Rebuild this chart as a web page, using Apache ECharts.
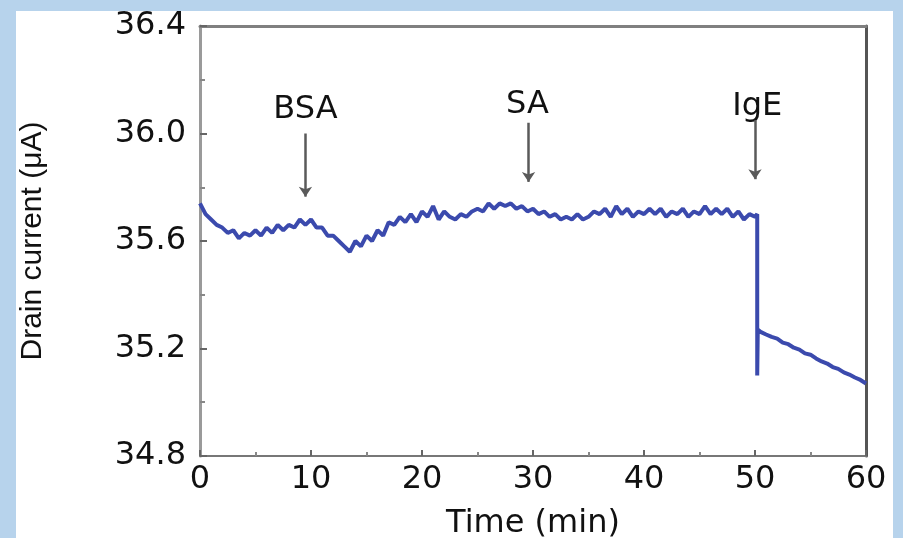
<!DOCTYPE html>
<html>
<head>
<meta charset="utf-8">
<script src="https://cdn.jsdelivr.net/npm/echarts@6/dist/echarts.min.js"></script>
<style>
  html, body { margin: 0; padding: 0; width: 903px; height: 538px; background: #b7d3ec; overflow: hidden; }
  #chart { position: absolute; left: 16px; top: 11px; width: 877px; height: 527px; background: #ffffff; }
</style>
</head>
<body>
<div id="chart"></div>
<script>
// ---- data ----
const timeMin = [
  0,0.5,1,1.5,2,2.5,3,3.5,4,4.5,5,5.5,6,6.5,7,7.5,8,8.5,9,9.5,
  10,10.5,11,11.5,12,12.5,13,13.5,14,14.5,15,15.5,16,16.5,17,17.5,18,18.5,19,19.5,
  20,20.5,21,21.5,22,22.5,23,23.5,24,24.5,25,25.5,26,26.5,27,27.5,28,28.5,29,29.5,
  30,30.5,31,31.5,32,32.5,33,33.5,34,34.5,35,35.5,36,36.5,37,37.5,38,38.5,39,39.5,
  40,40.5,41,41.5,42,42.5,43,43.5,44,44.5,45,45.5,46,46.5,47,47.5,48,48.5,49,49.5,
  50,50.2,50.2,50.25,50.5,51,51.5,52,52.5,53,53.5,54,54.5,55,55.5,56,56.5,57,57.5,58,58.5,59,59.5,60
];
const drainCurrent = [
  35.74,35.70,35.68,35.66,35.65,35.63,35.64,35.61,35.63,35.62,35.64,35.62,35.65,35.63,35.66,35.64,35.66,35.65,35.68,35.66,
  35.68,35.65,35.65,35.62,35.62,35.60,35.58,35.56,35.60,35.58,35.62,35.60,35.64,35.62,35.67,35.66,35.69,35.67,35.70,35.67,
  35.71,35.69,35.73,35.68,35.71,35.69,35.68,35.70,35.69,35.71,35.72,35.71,35.74,35.72,35.74,35.73,35.74,35.72,35.73,35.71,
  35.72,35.70,35.71,35.69,35.70,35.68,35.69,35.68,35.70,35.68,35.69,35.71,35.70,35.72,35.69,35.73,35.70,35.72,35.69,35.71,
  35.70,35.72,35.70,35.72,35.69,35.71,35.70,35.72,35.69,35.71,35.70,35.73,35.70,35.72,35.70,35.72,35.69,35.71,35.68,35.70,
  35.69,35.70,35.10,35.27,35.262,35.252,35.243,35.237,35.222,35.216,35.203,35.196,35.182,35.177,35.163,35.152,35.144,35.131,35.124,35.111,35.103,35.092,35.083,35.07
];
const eventLabels = ["BSA", "SA", "IgE"];
const eventTime = [9.5, 29.6, 50.0];
const eventLabelPos = [[9.5, 36.087], [29.5, 36.106], [50.2, 36.1]];
const arrowTop = [36.0, 36.04, 36.05];
const arrowBottom = [35.765, 35.82, 35.83];
const xTicks = [0, 10, 20, 30, 40, 50, 60];
const yTicks = [34.8, 35.2, 35.6, 36.0, 36.4];

const seriesData = timeMin.map((t, i) => [t, drainCurrent[i]]);
const labelData = eventLabels.map((s, i) => [eventLabelPos[i][0], eventLabelPos[i][1], s]);
const arrowData = eventTime.map((t, i) => [{ coord: [t, arrowTop[i]] }, { coord: [t, arrowBottom[i]] }]);

const FONT = "DejaVu Sans";
const chart = echarts.init(document.getElementById('chart'), null, { renderer: 'canvas' });
chart.setOption({
  animation: false,
  backgroundColor: '#ffffff',
  grid: { left: 184, right: 27, top: 15, bottom: 82, containLabel: false, outerBoundsMode: 'none' },
  xAxis: [{
    type: 'value', min: xTicks[0], max: xTicks[xTicks.length - 1], interval: 10,
    name: 'Time (min)', nameLocation: 'middle', nameGap: 52,
    nameTextStyle: { fontFamily: FONT, fontSize: 32, color: '#111' },
    axisLine: { show: true, lineStyle: { color: '#777', width: 2 } },
    axisTick: { show: true, inside: true, length: 6, lineStyle: { color: '#666', width: 2 } },
    minorTick: { show: true, splitNumber: 2, length: 4, lineStyle: { color: '#888', width: 2 } },
    axisLabel: { margin: 8, fontFamily: FONT, fontSize: 32, color: '#111' },
    splitLine: { show: false }
  }, {
    type: 'value', position: 'top', min: 0, max: 60, interval: 10,
    axisLine: { show: true, onZero: false, lineStyle: { color: '#808080', width: 3 } },
    axisTick: { show: false }, axisLabel: { show: false }, splitLine: { show: false }
  }],
  yAxis: [{
    type: 'value', min: yTicks[0], max: yTicks[yTicks.length - 1], interval: 0.4,
    name: 'Drain current (μA)', nameLocation: 'middle', nameGap: 152, nameRotate: 90,
    nameTextStyle: { fontFamily: "'Liberation Sans', Arial, sans-serif", fontSize: 30, color: '#111' },
    axisLine: { show: true, lineStyle: { color: '#9a9a9a', width: 3 } },
    axisTick: { show: true, inside: true, length: 7, lineStyle: { color: '#666', width: 2 } },
    minorTick: { show: true, splitNumber: 2, length: 5, lineStyle: { color: '#888', width: 2 } },
    axisLabel: { margin: 14, fontFamily: FONT, fontSize: 32, color: '#111', formatter: v => v.toFixed(1) },
    splitLine: { show: false }
  }, {
    type: 'value', position: 'right', min: 34.8, max: 36.4, interval: 0.4,
    axisLine: { show: true, onZero: false, lineStyle: { color: '#555', width: 3 } },
    axisTick: { show: false }, axisLabel: { show: false }, splitLine: { show: false }
  }],
  series: [{
    type: 'line', name: 'Drain current', data: seriesData, showSymbol: false,
    lineStyle: { color: '#3b4aad', width: 4 }, z: 3
  }, {
    type: 'line', name: 'arrows', data: [], showSymbol: false,
    markLine: {
      silent: true, symbol: ['none', 'arrow'], symbolSize: 10,
      lineStyle: { color: '#5a5a5a', width: 2.5, type: 'solid' },
      itemStyle: { color: '#111' },
      label: { show: false },
      emphasis: { disabled: true },
      data: arrowData
    }
  }, {
    type: 'scatter', name: 'labels', data: labelData, symbolSize: 0,
    itemStyle: { opacity: 1, color: '#111' },
    label: { show: true, position: 'inside', formatter: p => p.data[2], fontFamily: FONT, fontSize: 32, color: '#111', textBorderWidth: 0, textBorderColor: 'transparent' }
  }]
});
</script>
</body>
</html>
